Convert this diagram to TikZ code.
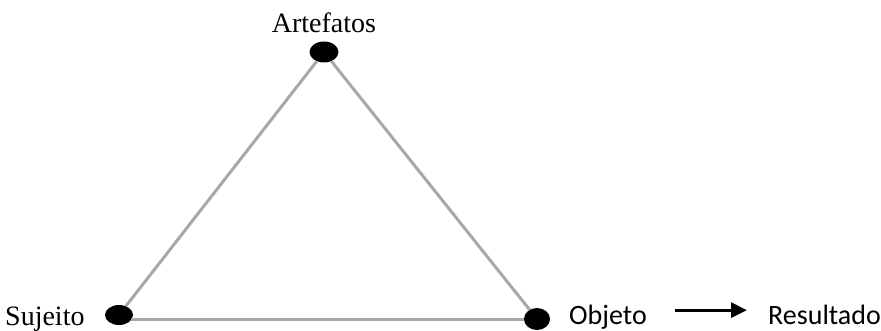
\documentclass[tikz,border=0pt]{standalone}
\usepackage{fontspec}
\setmainfont{Liberation Serif}
\newfontfamily\calib{Carlito}
\usetikzlibrary{arrows.meta,shapes.geometric}
\definecolor{edgegray}{RGB}{168,168,168}
\begin{document}
\begin{tikzpicture}[x=1pt,y=-1pt,
  dot/.style={ellipse,fill=black,minimum width=28pt,minimum height=20pt,inner sep=0pt},
  edge/.style={draw=edgegray,line width=3pt},
  lab/.style={font=\fontsize{28}{32}\selectfont,inner sep=0pt},
  slab/.style={font=\calib\fontsize{28}{32}\selectfont,inner sep=0pt}]
\useasboundingbox (0,0) rectangle (881,331);
\node[dot,minimum width=29pt,minimum height=21pt] (art) at (324,52) {};
\node[dot] (suj) at (119,315) {};
\node[dot,minimum width=26pt,minimum height=22pt] (obj) at (537,319) {};
\draw[edge] (art) -- (suj);
\draw[edge] (art) -- (obj);
\draw[edge] (suj.east) ++(-2,4) coordinate (s1);
\draw[edge] (s1) -- (obj.west |- s1);
\node[lab,anchor=base] (tart) at (324,33) {Artefatos};
\node[lab,anchor=base west] (tsuj) at (5,325) {Sujeito};
\node[slab,anchor=base west] (tobj) at (569,324.5) {Objeto};
\node[slab,anchor=base west] (tres) at (768,324.5) {Resultado};
\draw[line width=3pt,-{Triangle[length=16pt,width=15pt]}] (tobj.east) ++(28,-7) coordinate (a1) -- ++(72,0) coordinate (a2);
\end{tikzpicture}
\end{document}
